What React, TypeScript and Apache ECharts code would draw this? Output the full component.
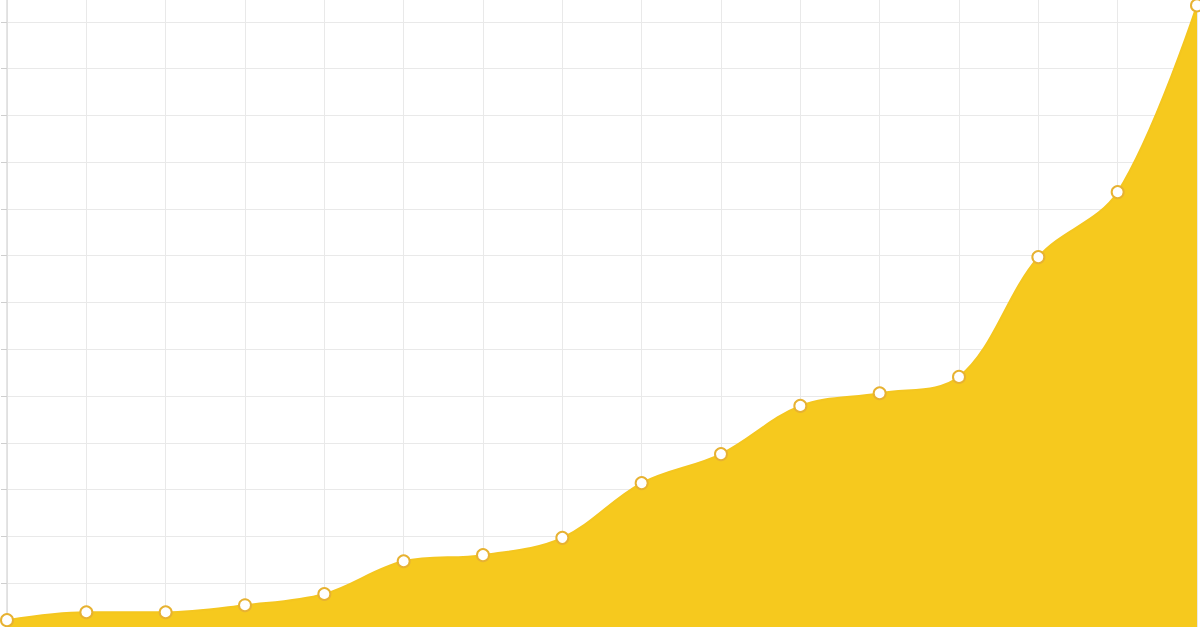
import React, { useEffect, useRef } from "react";
import * as echarts from "echarts";

const categories: string[] = [
  "1", "2", "3", "4", "5", "6", "7", "8",
  "9", "10", "11", "12", "13", "14", "15", "16",
];
const values: number[] = [
  2.1, 3.8, 3.8, 5.3, 7.7, 14.7, 16.0, 19.7,
  31.4, 37.6, 47.9, 50.6, 54.1, 79.7, 93.6, 133.5,
];
const yMin = 0;
const yMax = 140;
const yInterval = 10;

export default function App() {
  const ref = useRef<HTMLDivElement>(null);
  useEffect(() => {
    if (!ref.current) return;
    const chart = echarts.init(ref.current, undefined, { renderer: "svg" });
    chart.setOption({
      animation: false,
      backgroundColor: "#ffffff",
      grid: { left: 7, right: 3, top: 0, bottom: 0, containLabel: false },
      xAxis: {
        type: "category",
        data: categories,
        boundaryGap: false,
        axisLabel: { show: false },
        axisTick: { show: false },
        axisLine: { show: false },
        splitLine: { show: true, lineStyle: { color: "#e9e9e9", width: 1 } },
      },
      yAxis: {
        type: "value",
        min: yMin,
        max: yMax,
        interval: yInterval,
        axisLabel: { show: false },
        axisLine: { show: true, lineStyle: { color: "#dcdcdc", width: 1.5 } },
        axisTick: { show: true, length: 6, lineStyle: { color: "#cfcfcf" } },
        splitLine: { show: true, lineStyle: { color: "#e9e9e9", width: 1 } },
      },
      series: [
        {
          type: "line",
          data: values,
          smooth: 0.35,
          symbol: "circle",
          symbolSize: 12,
          showAllSymbol: true,
          clip: false,
          lineStyle: { color: "#F4C61F", width: 2 },
          itemStyle: { color: "#ffffff", borderColor: "#E7B232", borderWidth: 2 },
          areaStyle: { color: "#F6C91E", opacity: 1 },
          z: 3,
        },
      ],
    });
    return () => chart.dispose();
  }, []);
  return (
    <div
      ref={ref}
      style={{
        position: "fixed",
        left: 0,
        top: -25,
        width: 1200,
        height: 655,
        background: "#ffffff",
      }}
    />
  );
}
